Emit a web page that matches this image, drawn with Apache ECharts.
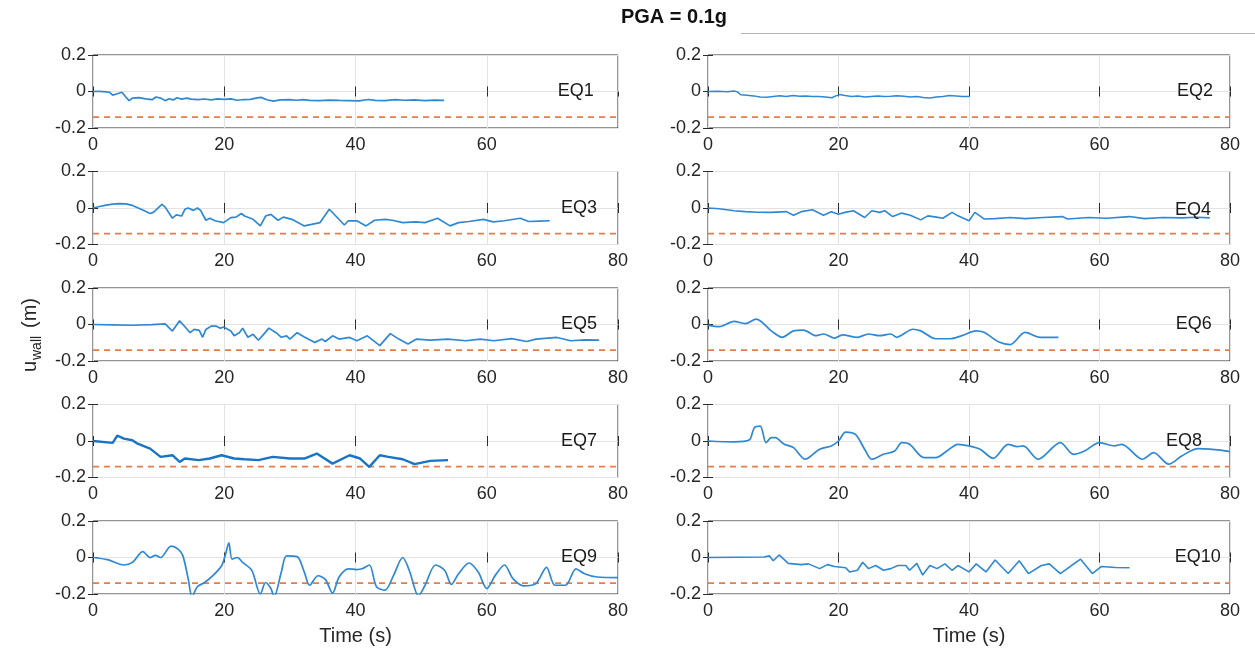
<!DOCTYPE html>
<html>
<head>
<meta charset="utf-8">
<script src="https://cdn.jsdelivr.net/npm/echarts@6/dist/echarts.min.js"></script>
<style>
  html, body { margin: 0; padding: 0; background: #ffffff; }
  #chart { width: 1255px; height: 651px; }
</style>
</head>
<body>
<div id="chart"></div>
<script>
// Wall displacement histories (time in s, displacement in m) for ten ground motions at PGA = 0.1g
const eq1 = [[0,0],[1,0.001],[2,-0.002],[2.5,-0.004],[3,-0.02],[3.7,-0.012],[4.4,-0.004],[5,-0.03],[5.5,-0.05],[6,-0.036],[7,-0.034],[8,-0.04],[9,-0.045],[9.6,-0.03],[10.3,-0.036],[11,-0.05],[11.6,-0.04],[12.2,-0.046],[12.8,-0.034],[13.5,-0.042],[14.3,-0.036],[15,-0.042],[16,-0.045],[17,-0.041],[18,-0.046],[19,-0.04],[20,-0.043],[21,-0.04],[22,-0.048],[23,-0.044],[24,-0.043],[25,-0.035],[25.6,-0.032],[26.5,-0.045],[27.5,-0.053],[28.5,-0.046],[30,-0.045],[31,-0.048],[32,-0.045],[33,-0.049],[34.5,-0.05],[36,-0.047],[37.5,-0.049],[39,-0.05],[40.5,-0.051],[42,-0.044],[43,-0.049],[44.5,-0.05],[46,-0.045],[47.5,-0.048],[49,-0.046],[50.5,-0.05],[52,-0.047],[53.5,-0.049]];
const eq2 = [[0,0],[1.5,0.001],[3,-0.002],[4,0.003],[4.5,-0.002],[5,-0.018],[6,-0.02],[7,-0.024],[8,-0.03],[9,-0.031],[10,-0.027],[11,-0.023],[12,-0.027],[13,-0.022],[14,-0.026],[15,-0.025],[16,-0.028],[17,-0.027],[18,-0.03],[19,-0.034],[19.6,-0.024],[20.2,-0.017],[21,-0.022],[22,-0.027],[23,-0.025],[24,-0.03],[25,-0.027],[26,-0.025],[27,-0.028],[28,-0.026],[29,-0.023],[30,-0.026],[31,-0.03],[32,-0.028],[33,-0.033],[34,-0.036],[35,-0.03],[36,-0.027],[37,-0.022],[38,-0.024],[39,-0.028],[40,-0.027]];
const eq3 = [[0,0],[1,0.008],[2,0.016],[3,0.021],[4,0.024],[5,0.023],[6,0.014],[7.5,-0.01],[8.7,-0.03],[9.2,-0.024],[10.5,0.02],[11,0.005],[12.1,-0.056],[12.7,-0.038],[13.5,-0.044],[14,-0.007],[14.5,0],[15.3,-0.013],[15.9,0],[16.4,-0.013],[17.2,-0.067],[17.8,-0.056],[18.6,-0.07],[19.9,-0.08],[21,-0.053],[21.8,-0.05],[22.6,-0.03],[23.1,-0.044],[24.4,-0.062],[25.5,-0.098],[26.3,-0.044],[27.1,-0.035],[28.2,-0.067],[29,-0.05],[30.3,-0.062],[32.2,-0.098],[33.3,-0.09],[34.6,-0.08],[36,-0.007],[37,-0.044],[38.3,-0.093],[38.9,-0.07],[40.2,-0.07],[41.6,-0.098],[42.9,-0.067],[44.5,-0.062],[45.6,-0.067],[47.2,-0.08],[49.1,-0.076],[50.6,-0.08],[52.5,-0.056],[54.4,-0.098],[55.7,-0.08],[57.3,-0.074],[59.5,-0.062],[61,-0.076],[62.7,-0.07],[65.1,-0.056],[66.4,-0.074],[68,-0.072],[69.6,-0.07]];
const eq4 = [[0,0],[1.7,-0.004],[4,-0.015],[5.7,-0.02],[7.5,-0.023],[9.7,-0.024],[12,-0.02],[13.1,-0.04],[14.3,-0.02],[16,-0.01],[17.7,-0.04],[18.9,-0.02],[20,-0.034],[21,-0.024],[22.3,-0.015],[24,-0.052],[25.1,-0.015],[26.3,-0.024],[27.1,-0.015],[28.3,-0.047],[29.7,-0.028],[31,-0.04],[32.6,-0.065],[33.7,-0.043],[35,-0.05],[36,-0.056],[37.4,-0.024],[38.3,-0.043],[40,-0.07],[40.9,-0.024],[42.3,-0.06],[44,-0.058],[46.3,-0.052],[48.6,-0.058],[51.4,-0.052],[54.3,-0.047],[55.1,-0.06],[58.3,-0.052],[61.1,-0.056],[64.6,-0.047],[66.9,-0.058],[69.7,-0.052],[72.6,-0.054],[75,-0.051],[76.9,-0.054]];
const eq5 = [[0,0],[3,-0.002],[6,-0.004],[9,-0.001],[11,0.003],[12.1,-0.036],[13.2,0.02],[13.7,0],[14.8,-0.045],[15.4,-0.027],[16.2,-0.032],[16.7,-0.07],[17.2,-0.027],[18,-0.009],[18.8,-0.009],[19.4,-0.02],[19.9,-0.014],[21,-0.036],[21.5,-0.062],[22.3,-0.045],[22.8,-0.02],[23.6,-0.07],[24.4,-0.054],[25.2,-0.086],[26,-0.054],[26.8,-0.02],[27.9,-0.045],[28.7,-0.07],[29.5,-0.062],[30,-0.08],[31.1,-0.045],[32.2,-0.068],[33.8,-0.098],[34.9,-0.08],[35.4,-0.093],[36.5,-0.062],[37.5,-0.08],[39.1,-0.071],[40.2,-0.089],[41.8,-0.062],[43.7,-0.116],[45.3,-0.05],[46.6,-0.08],[48,-0.107],[49.3,-0.08],[51.4,-0.086],[54.1,-0.08],[56.8,-0.089],[59,-0.08],[61.1,-0.089],[63.8,-0.077],[66.1,-0.093],[67.5,-0.08],[70.7,-0.071],[72.8,-0.089],[75,-0.084],[77.1,-0.086]];
const eq6 = [[0,-0.003],[1.7,-0.012],[4,0.017],[5.7,0.005],[7.4,0.03],[9.7,-0.035],[11.4,-0.07],[13.1,-0.035],[14.6,-0.031],[16.6,-0.061],[17.7,-0.052],[19.4,-0.075],[20.6,-0.057],[22.9,-0.07],[24.6,-0.052],[26.3,-0.061],[28,-0.052],[28.9,-0.07],[31.4,-0.026],[32.6,-0.035],[34.9,-0.078],[37.1,-0.078],[38.9,-0.061],[41.1,-0.035],[42.3,-0.043],[44.6,-0.096],[46.3,-0.11],[48.6,-0.043],[50.9,-0.07],[53.7,-0.07]];
const eq7 = [[0,0],[3,-0.01],[3.7,0.03],[4.7,0.013],[6,0.004],[6.8,-0.015],[8.7,-0.042],[10.3,-0.087],[12.1,-0.078],[13.2,-0.115],[14,-0.096],[16.1,-0.105],[17.8,-0.096],[19.6,-0.078],[21.5,-0.096],[23.1,-0.1],[25.2,-0.105],[27.4,-0.087],[30,-0.096],[32.2,-0.096],[34.1,-0.069],[36.5,-0.124],[39.1,-0.078],[40.7,-0.096],[42.1,-0.142],[43.7,-0.078],[45,-0.087],[47.2,-0.1],[49,-0.127],[51.4,-0.109],[54.1,-0.105]];
const eq8 = [[0,0],[4,-0.005],[6.3,0.005],[7.1,0.073],[8,0.082],[8.9,-0.009],[9.7,0.018],[10.3,0.018],[11.7,-0.018],[13.1,-0.036],[14.9,-0.1],[17.1,-0.045],[18.9,-0.027],[20,0],[21.1,0.049],[22.6,0.036],[24,-0.045],[25.1,-0.1],[26.9,-0.073],[28.6,-0.055],[29.7,-0.009],[30.9,-0.018],[33.1,-0.091],[34.9,-0.091],[36.6,-0.055],[38.3,-0.018],[40,-0.027],[41.7,-0.045],[43.7,-0.095],[46,-0.018],[47.4,-0.031],[48.3,-0.027],[50.6,-0.1],[54,-0.009],[56,-0.073],[57.7,-0.055],[60,-0.009],[62.3,-0.027],[63.4,-0.018],[66.6,-0.1],[68.3,-0.064],[70.6,-0.127],[72.6,-0.082],[75.1,-0.042],[76.9,-0.045],[80,-0.058]];
const eq9 = [[0,0],[2.2,-0.012],[4.7,-0.041],[6,-0.027],[7.6,0.032],[8.7,0],[9.5,0.012],[10.3,0],[11.9,0.062],[13,0.045],[13.7,0.009],[14.5,-0.116],[15.1,-0.215],[15.9,-0.16],[17,-0.137],[18.3,-0.098],[19.6,-0.045],[20.2,0.018],[20.7,0.08],[21.2,-0.009],[22,0],[22.8,-0.027],[24.2,-0.071],[25.5,-0.2],[26.3,-0.137],[27.1,-0.17],[27.6,-0.215],[28.7,-0.08],[29.5,0.009],[31.1,0.005],[32.2,-0.08],[33,-0.152],[34.3,-0.1],[35.4,-0.12],[36.5,-0.195],[37.5,-0.107],[38.9,-0.062],[40.2,-0.066],[41,-0.062],[42.1,-0.041],[43.2,-0.16],[44.5,-0.179],[45.8,-0.098],[47.2,0],[48.2,-0.071],[49.6,-0.21],[50.6,-0.152],[52.2,-0.041],[53.6,-0.071],[54.6,-0.148],[55.7,-0.089],[57.3,-0.03],[58.7,-0.08],[60,-0.17],[61.3,-0.098],[62.7,-0.041],[64,-0.116],[65.6,-0.155],[67.5,-0.143],[69.1,-0.054],[70.4,-0.152],[72,-0.152],[73.6,-0.062],[74.9,-0.089],[76.8,-0.107],[80,-0.11]];
const eq10 = [[0,0],[8.6,0.003],[9.4,0.009],[10,-0.018],[10.9,0.014],[12.3,-0.032],[14.3,-0.039],[15.4,-0.035],[17.1,-0.061],[18.3,-0.039],[19.4,-0.049],[21.1,-0.056],[21.7,-0.079],[22.9,-0.07],[23.7,-0.026],[24.6,-0.061],[25.7,-0.044],[26.9,-0.07],[28,-0.061],[29.1,-0.044],[30.3,-0.044],[30.9,-0.07],[32,-0.032],[32.9,-0.096],[34,-0.044],[35.1,-0.061],[36.3,-0.035],[37.4,-0.07],[38.3,-0.044],[40,-0.079],[41.1,-0.035],[42.6,-0.079],[44,-0.014],[46,-0.088],[47.7,-0.018],[49.1,-0.088],[51.1,-0.044],[52.3,-0.035],[54,-0.088],[55.7,-0.044],[57.1,-0.009],[58.9,-0.088],[60.3,-0.049],[62.5,-0.055],[64.6,-0.056]];

const records = [eq1, eq2, eq3, eq4, eq5, eq6, eq7, eq8, eq9, eq10];
const recordNames = ['EQ1', 'EQ2', 'EQ3', 'EQ4', 'EQ5', 'EQ6', 'EQ7', 'EQ8', 'EQ9', 'EQ10'];
const limitDisp = -0.14;          // allowable wall displacement (dashed)
const timeRange = [0, 80];
const dispRange = [-0.2, 0.2];
const timeStep = 20;
const dispStep = 0.2;

// ---- layout and styling ----
const FONT = '"Liberation Sans", Arial, Helvetica, sans-serif';
const TXT = '#262626';
const colLeft = [93, 708];
const colWidth = [525, 522];
const rowTop0 = 55, rowStep = 116.5, panelH = 73;
const tagAnchor = [[76.3, 0], [77.4, 0], [76.8, 0], [77.1, -0.012], [76.8, 0],
                   [77.2, 0], [76.8, 0], [75.7, 0], [76.8, 0], [78.6, 0]];
const smoothing = [0, 0, 0, 0, 0, 0.3, 0, 0.3, 0.3, 0];
const traceWidth = [1.7, 1.5, 1.7, 1.6, 1.7, 1.7, 2.4, 1.7, 1.7, 1.6];

const grids = [], xAxes = [], yAxes = [], series = [];

records.forEach((rec, i) => {
  const row = Math.floor(i / 2), col = i % 2;
  const bottomRow = row === 4;
  grids.push({
    left: colLeft[col], width: colWidth[col],
    top: rowTop0 + row * rowStep, height: panelH,
    show: true, borderColor: '#2b2b2b', borderWidth: 1, backgroundColor: 'transparent'
  });
  // bottom x axis with labels
  xAxes.push({
    type: 'value', gridIndex: i, min: timeRange[0], max: timeRange[1], interval: timeStep,
    axisLine: { show: false },
    axisTick: { show: true, inside: true, length: 5, lineStyle: { color: '#2b2b2b' } },
    axisLabel: { show: true, margin: 8, fontFamily: FONT, fontSize: 18, color: TXT,
                 showMaxLabel: i !== 0 },
    splitLine: { show: true, lineStyle: { color: '#e3e3e3', width: 1 } },
    name: bottomRow ? 'Time (s)' : '', nameLocation: 'middle', nameGap: 32,
    nameTextStyle: { fontFamily: FONT, fontSize: 20, color: TXT }
  });
  // top x axis: ticks only
  xAxes.push({
    type: 'value', gridIndex: i, position: 'top', min: timeRange[0], max: timeRange[1], interval: timeStep,
    axisLine: { show: false }, axisLabel: { show: false }, splitLine: { show: false },
    axisTick: { show: true, inside: true, length: 5, lineStyle: { color: '#2b2b2b' } }
  });
  // left y axis with labels
  yAxes.push({
    type: 'value', gridIndex: i, min: dispRange[0], max: dispRange[1], interval: dispStep,
    axisLine: { show: false },
    axisTick: { show: true, inside: true, length: 5, lineStyle: { color: '#2b2b2b' } },
    axisLabel: { show: true, margin: 7, fontFamily: FONT, fontSize: 18, color: TXT,
                 formatter: v => (Math.abs(v) < 1e-9 ? '0' : String(+v.toFixed(1))) },
    splitLine: { show: true, lineStyle: { color: '#e3e3e3', width: 1 } }
  });
  // right y axis: ticks only
  yAxes.push({
    type: 'value', gridIndex: i, position: 'right', min: dispRange[0], max: dispRange[1], interval: dispStep,
    axisLine: { show: false }, axisLabel: { show: false }, splitLine: { show: false },
    axisTick: { show: true, inside: true, length: 5, lineStyle: { color: '#2b2b2b' } }
  });

  series.push({
    type: 'line', name: recordNames[i] + ' limit',
    xAxisIndex: 2 * i, yAxisIndex: 2 * i,
    data: [[timeRange[0], limitDisp], [timeRange[1], limitDisp]],
    showSymbol: false, silent: true,
    lineStyle: { color: '#e67c4a', width: 1.7, type: [6, 5] }
  });
  series.push({
    type: 'line', name: recordNames[i],
    xAxisIndex: 2 * i, yAxisIndex: 2 * i,
    data: rec, showSymbol: false, clip: true, silent: true,
    smooth: smoothing[i],
    lineStyle: { color: i === 6 ? '#1a74c4' : '#2f88d4', width: traceWidth[i] },
    markPoint: {
      symbol: 'circle', symbolSize: 0, silent: true,
      label: { show: true, position: 'left', distance: 0, formatter: recordNames[i],
               fontFamily: FONT, fontSize: 18, color: '#1a1a1a' },
      data: [{ coord: tagAnchor[i] }]
    }
  });
});

const chart = echarts.init(document.getElementById('chart'), null, { renderer: 'canvas' });
chart.setOption({
  animation: false,
  backgroundColor: '#ffffff',
  grid: grids,
  xAxis: xAxes,
  yAxis: yAxes,
  series: series,
  graphic: [
    {
      type: 'text', x: 674, y: 17, silent: true,
      style: { text: 'PGA = 0.1g', font: 'bold 20px ' + FONT, fill: '#111',
               textAlign: 'center', textVerticalAlign: 'middle', align: 'center', verticalAlign: 'middle' }
    },
    {
      type: 'line', silent: true,
      shape: { x1: 741, y1: 33.5, x2: 1255, y2: 33.5 },
      style: { stroke: '#b5b5b5', lineWidth: 1 }
    },
    {
      type: 'group', x: 30, y: 372, rotation: Math.PI / 2, silent: true,
      children: [
        { type: 'text', x: 0, y: 0,
          style: { text: 'u', font: '20px ' + FONT, fill: TXT,
                   textAlign: 'left', textVerticalAlign: 'middle', align: 'left', verticalAlign: 'middle' } },
        { type: 'text', x: 12, y: 7,
          style: { text: 'wall', font: '14px ' + FONT, fill: TXT,
                   textAlign: 'left', textVerticalAlign: 'middle', align: 'left', verticalAlign: 'middle' } },
        { type: 'text', x: 44, y: 0,
          style: { text: '(m)', font: '20px ' + FONT, fill: TXT,
                   textAlign: 'left', textVerticalAlign: 'middle', align: 'left', verticalAlign: 'middle' } }
      ]
    }
  ]
});
</script>
</body>
</html>
